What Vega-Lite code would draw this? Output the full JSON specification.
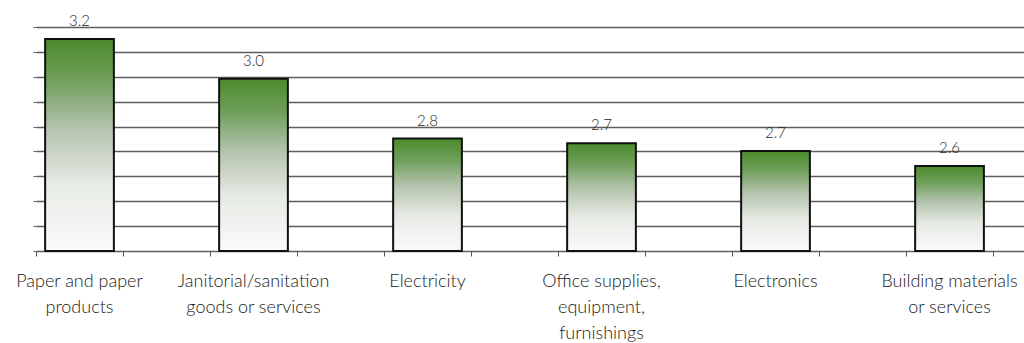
{
  "$schema": "https://vega.github.io/schema/vega-lite/v6.json",
  "width": 988,
  "height": 224,
  "autosize": {"type": "none"},
  "padding": {"left": 36, "top": 27, "right": 0, "bottom": 92},
  "background": "white",
  "config": {"view": {"stroke": null}, "font": "Lato"},
  "data": {
    "values": [
      {"category": "Paper and paper products", "value": 3.152},
      {"category": "Janitorial/sanitation goods or services", "value": 2.992},
      {"category": "Electricity", "value": 2.752},
      {"category": "Office supplies, equipment, furnishings", "value": 2.733},
      {"category": "Electronics", "value": 2.702},
      {"category": "Building materials or services", "value": 2.6415}
    ]
  },
  "resolve": {"axis": {"x": "independent"}},
  "encoding": {
    "y": {
      "field": "value",
      "type": "quantitative",
      "scale": {"domain": [2.3, 3.2], "nice": false, "zero": false},
      "axis": {
        "title": null,
        "labels": false,
        "domain": false,
        "grid": true,
        "gridColor": "#5e5e5e",
        "gridWidth": 1.3,
        "ticks": true,
        "tickSize": 3,
        "tickColor": "#5e5e5e",
        "values": [2.3, 2.4, 2.5, 2.6, 2.7, 2.8, 2.9, 3.0, 3.1, 3.2]
      }
    }
  },
  "layer": [
    {
      "mark": {
        "type": "bar",
        "width": {"band": 0.79},
        "stroke": "#111111",
        "strokeWidth": 2,
        "fill": {
          "gradient": "linear",
          "x1": 0, "y1": 0, "x2": 0, "y2": 1,
          "stops": [
            {"offset": 0, "color": "#4b8b2b"},
            {"offset": 0.2, "color": "#71a05d"},
            {"offset": 0.42, "color": "#b4c3ad"},
            {"offset": 0.68, "color": "#e6eae4"},
            {"offset": 1, "color": "#fbfbfb"}
          ]
        }
      },
      "encoding": {
        "x": {
          "field": "category",
          "type": "nominal",
          "sort": null,
          "scale": {"paddingInner": 0.5, "paddingOuter": 0.089, "align": 0},
          "axis": {
            "orient": "bottom",
            "title": null,
            "domain": false,
            "ticks": false,
            "grid": false,
            "labelAngle": 0,
            "labelFont": "Lato",
            "labelFontSize": 18,
            "labelFontWeight": 300,
            "labelColor": "#1a1a1a",
            "labelLineHeight": 26,
            "labelBaseline": "alphabetic",
            "labelPadding": 35,
            "labelLimit": 0,
            "labelExpr": "datum.value == 'Paper and paper products' ? ['Paper and paper', 'products'] : datum.value == 'Janitorial/sanitation goods or services' ? ['Janitorial/sanitation', 'goods or services'] : datum.value == 'Office supplies, equipment, furnishings' ? ['Office supplies,', 'equipment,', 'furnishings'] : datum.value == 'Building materials or services' ? ['Building materials', 'or services'] : datum.value"
          }
        },
        "y2": {"datum": 2.3}
      }
    },
    {
      "mark": {"type": "text", "baseline": "alphabetic", "dy": -13, "fontSize": 15, "fontWeight": 300, "font": "Lato", "color": "#2a2a2a"},
      "encoding": {
        "x": {
          "field": "category",
          "type": "nominal",
          "sort": null,
          "axis": {
            "orient": "bottom",
            "title": null,
            "domain": false,
            "labels": false,
            "grid": false,
            "ticks": true,
            "tickSize": 5,
            "tickColor": "#555555",
            "bandPosition": 0
          }
        },
        "text": {"field": "value", "type": "quantitative", "format": ".1f"}
      }
    },
    {
      "mark": {"type": "text", "opacity": 0},
      "encoding": {
        "x": {
          "field": "category",
          "type": "nominal",
          "sort": null,
          "axis": {
            "orient": "bottom",
            "title": null,
            "domain": false,
            "labels": false,
            "grid": false,
            "ticks": true,
            "tickSize": 5,
            "tickColor": "#555555",
            "bandPosition": 1
          }
        },
        "text": {"value": ""}
      }
    }
  ]
}
